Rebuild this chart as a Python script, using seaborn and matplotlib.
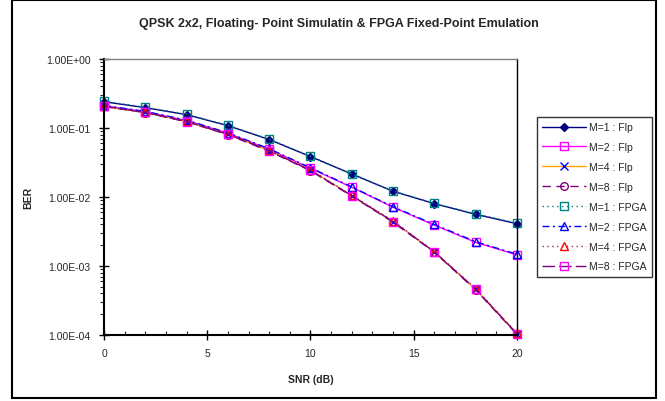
import matplotlib
matplotlib.use("Agg")
from matplotlib import pyplot as plt
from matplotlib.ticker import FuncFormatter, LogLocator, MultipleLocator
from matplotlib.patches import Rectangle
import seaborn as sns
import numpy as np

sns.set_style("white")
plt.rcParams['font.family'] = ['Liberation Sans', 'DejaVu Sans']

snr = [0, 2, 4, 6, 8, 10, 12, 14, 16, 18, 20]

# floating point simulation
ber_m1_flp = [0.240, 0.197, 0.156, 0.108, 0.068, 0.0385, 0.0215, 0.0121, 0.0080, 0.0056, 0.0041]
ber_m2_flp = [0.210, 0.172, 0.128, 0.084, 0.049, 0.0260, 0.0138, 0.0071, 0.0039, 0.0022, 0.00145]
ber_m4_flp = [0.205, 0.168, 0.124, 0.081, 0.047, 0.0245, 0.0105, 0.0044, 0.0016, 0.00046, 0.000105]
ber_m8_flp = [0.205, 0.167, 0.123, 0.080, 0.046, 0.0240, 0.0103, 0.0043, 0.00158, 0.00045, 0.000102]

# FPGA fixed point emulation
ber_m1_fpga = [0.245, 0.200, 0.158, 0.109, 0.069, 0.0390, 0.0217, 0.0122, 0.0081, 0.0057, 0.0042]
ber_m2_fpga = [0.212, 0.174, 0.130, 0.085, 0.050, 0.0265, 0.0140, 0.0072, 0.0040, 0.00225, 0.00148]
ber_m4_fpga = [0.207, 0.169, 0.125, 0.082, 0.048, 0.0248, 0.0106, 0.0045, 0.00162, 0.00047, 0.000106]
ber_m8_fpga = [0.206, 0.168, 0.124, 0.081, 0.047, 0.0243, 0.0104, 0.0044, 0.00160, 0.00046, 0.000104]

labels = ['M=1 : Flp', 'M=2 : Flp', 'M=4 : Flp', 'M=8 : Flp',
          'M=1 : FPGA', 'M=2 : FPGA', 'M=4 : FPGA', 'M=8 : FPGA']
series = [ber_m1_flp, ber_m2_flp, ber_m4_flp, ber_m8_flp,
          ber_m1_fpga, ber_m2_fpga, ber_m4_fpga, ber_m8_fpga]

# (line color, linestyle, marker, marker edge, marker face)
styles = [
    ('#000080', '-', 'D', '#000080', '#000080'),
    ('#FF00FF', '-', 's', '#FF00FF', 'none'),
    ('#FFA500', '-', 'x', '#0000FF', '#0000FF'),
    ('#800080', (0, (6, 4)), 'o', '#800080', 'none'),
    ('#008080', (0, (1, 2.5)), 's', '#008080', 'none'),
    ('#0000FF', (0, (5, 2.5, 1.5, 2.5)), '^', '#0000FF', 'none'),
    ('#993366', (0, (1, 2.5)), '^', '#FF0000', 'none'),
    ('#800080', (0, (9, 3)), 's', '#FF00FF', 'none'),
]

fig = plt.figure(figsize=(6.65, 4.02), dpi=100)
ax = fig.add_axes([0.1564, 0.1642, 0.621, 0.6866])

for lab, vals, st in zip(labels, series, styles):
    color, ls, mk, mec, mfc = st
    ms = 4 if mk == 'D' else 5.5
    sns.lineplot(x=snr, y=vals, ax=ax, color=color, linestyle=ls, linewidth=1.0,
                 marker=mk, markersize=ms, markeredgecolor=mec, markerfacecolor=mfc,
                 markeredgewidth=1.0, label=lab, clip_on=False)

ax.set_yscale('log')
ax.set_ylim(1e-4, 1)
ax.set_xlim(0, 20)
ax.xaxis.set_major_locator(MultipleLocator(5))
ax.xaxis.set_minor_locator(MultipleLocator(1))
ax.yaxis.set_major_locator(LogLocator(base=10, numticks=10))
ax.yaxis.set_minor_locator(LogLocator(base=10, subs=np.arange(2, 10), numticks=20))
ax.yaxis.set_major_formatter(FuncFormatter(lambda v, p: '{:.2E}'.format(v).replace('E+0', 'E+0').replace('E-0', 'E-0')))

ax.tick_params(axis='both', which='major', direction='inout', length=7, width=1,
               labelsize=7.5, color='black', left=True, bottom=True, pad=6)
ax.tick_params(axis='x', which='minor', direction='in', length=3, width=0.8, bottom=True)
ax.tick_params(axis='y', which='minor', direction='out', length=3, width=0.8, left=True)

for side in ['left', 'bottom']:
    ax.spines[side].set_color('black')
    ax.spines[side].set_linewidth(1.5)
ax.spines['right'].set_color('black')
ax.spines['right'].set_linewidth(1.0)
ax.spines['top'].set_color('#808080')
ax.spines['top'].set_linewidth(1.0)

ax.set_xlabel('SNR (dB)', fontsize=7.5, fontweight='bold')
ax.set_ylabel('BER', fontsize=7.5, fontweight='bold')
ax.xaxis.set_label_coords(0.5, -0.14)
ax.yaxis.set_label_coords(-0.172, 0.5)

fig.text(0.51, 0.94, 'QPSK 2x2, Floating- Point Simulatin & FPGA Fixed-Point Emulation',
         ha='center', va='center', fontsize=9, fontweight='bold')

ax.get_legend().remove()
handles, labs = ax.get_legend_handles_labels()
leg = fig.legend(handles, labs, loc='upper left', bbox_to_anchor=(0.8075, 0.7065),
                 fontsize=7.5, frameon=True, fancybox=False, handlelength=4.2,
                 labelspacing=0.95, borderpad=0.5, handletextpad=0.3, borderaxespad=0)
leg.get_frame().set_edgecolor('black')
leg.get_frame().set_linewidth(1.0)

fig.patches.append(Rectangle((0.018, 0.007), 0.968, 0.99, transform=fig.transFigure,
                             fill=False, edgecolor='black', linewidth=1.5))

fig.savefig('out.png', dpi=100)
